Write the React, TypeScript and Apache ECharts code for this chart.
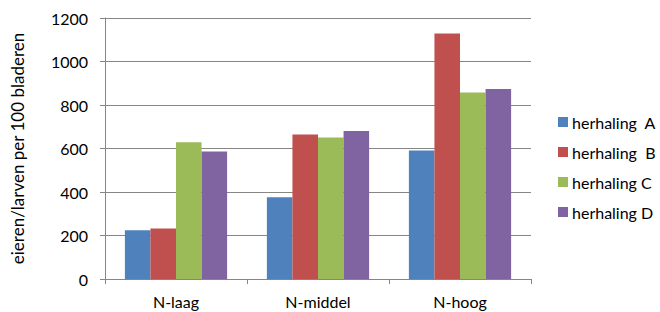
import React, { useEffect, useRef } from "react";
import * as echarts from "echarts";

const categories = ["N-laag", "N-middel", "N-hoog"];
const seriesNames = ["herhaling  A", "herhaling  B", "herhaling C", "herhaling D"];
const herhalingA = [224, 376, 591];
const herhalingB = [232, 664, 1129];
const herhalingC = [629, 651, 858];
const herhalingD = [586, 681, 873];
const colors = ["#4F81BD", "#C0504D", "#9BBB59", "#8064A2"];

export default function App() {
  const ref = useRef<HTMLDivElement>(null);
  useEffect(() => {
    if (!ref.current) return;
    const chart = echarts.init(ref.current, null, { renderer: "svg" });
    const data = [herhalingA, herhalingB, herhalingC, herhalingD];
    const font = "Lato, 'Open Sans', sans-serif";
    chart.setOption({
      animation: false,
      color: colors,
      textStyle: { fontFamily: font, color: "#000" },
      grid: { left: 105, right: 129, top: 18, bottom: 33, containLabel: false, outerBoundsMode: "none" },
      legend: {
        orient: "vertical",
        left: 553,
        top: 108,
        itemWidth: 10,
        itemHeight: 10,
        itemGap: 12,
        icon: "rect",
        textStyle: { fontSize: 16, color: "#000", fontFamily: font, padding: [0, 0, 0, -1], lineHeight: 18 },
        data: seriesNames,
      },
      xAxis: {
        type: "category",
        data: categories,
        axisLine: { lineStyle: { color: "#868686" } },
        axisTick: { show: true, length: 5, lineStyle: { color: "#868686" } },
        axisLabel: { fontSize: 16, color: "#000", margin: 14, fontFamily: font },
      },
      yAxis: {
        type: "value",
        min: 0,
        max: 1200,
        interval: 200,
        name: "eieren/larven per 100 bladeren",
        nameLocation: "middle",
        nameGap: 79,
        nameTextStyle: { fontSize: 17, color: "#000000", fontFamily: font },
        axisLine: { show: true, lineStyle: { color: "#868686" } },
        axisTick: { show: true, length: 5, lineStyle: { color: "#868686" } },
        axisLabel: {
          fontSize: 16,
          color: "#000",
          margin: 17,
          fontFamily: font,
          formatter: (v: number) => String(v),
        },
        splitLine: { lineStyle: { color: "#868686" } },
      },
      series: data.map((d, i) => ({
        name: seriesNames[i],
        type: "bar",
        data: d,
        barGap: "0%",
        barCategoryGap: "28%",
        itemStyle: { color: colors[i] },
      })),
    });
    return () => chart.dispose();
  }, []);
  return (
    <div
      ref={ref}
      style={{ position: "fixed", left: 0, top: 0, width: 660, height: 312, background: "#fff" }}
    />
  );
}
